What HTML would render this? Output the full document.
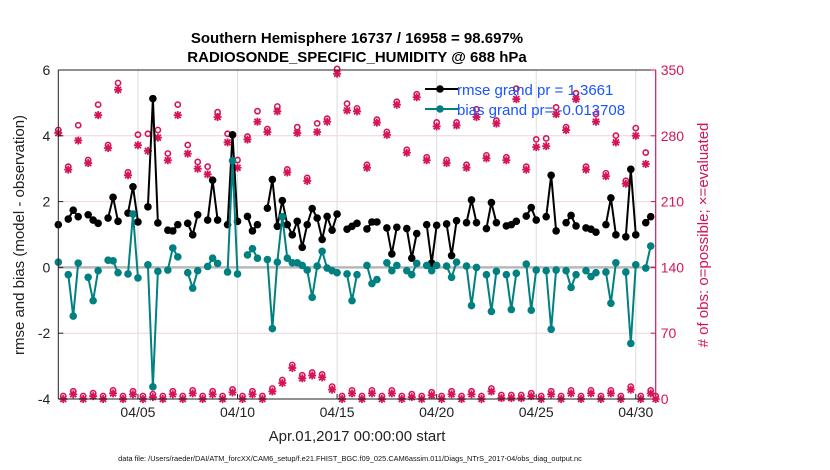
<!DOCTYPE html>
<html><head><meta charset="utf-8"><style>
body{margin:0;background:#fff;}
svg{display:block;font-family:"Liberation Sans",Arial,sans-serif;}
</style></head><body>
<svg id="chart" width="830" height="470" viewBox="0 0 830 470" xmlns="http://www.w3.org/2000/svg">
<rect x="0" y="0" width="830" height="470" fill="#fff"/>
<g id="grid"></g>
<g id="marks"></g>
<g id="axes"></g>
<text x="357" y="43" text-anchor="middle" font-size="15" font-weight="bold">Southern Hemisphere 16737 / 16958 = 98.697%</text>
<text x="357" y="62" text-anchor="middle" font-size="15" font-weight="bold">RADIOSONDE_SPECIFIC_HUMIDITY @ 688 hPa</text>
<text transform="translate(24,235) rotate(-90)" text-anchor="middle" font-size="15" fill="#222">rmse and bias (model - observation)</text>
<text transform="translate(708,235) rotate(-90)" text-anchor="middle" font-size="15" fill="#d6145a"># of obs: o=possible; ×=evaluated</text>
<text x="357" y="441" text-anchor="middle" font-size="15" fill="#222">Apr.01,2017 00:00:00 start</text>
<text x="350" y="461" text-anchor="middle" font-size="7.4" fill="#111">data file: /Users/raeder/DAI/ATM_forcXX/CAM6_setup/f.e21.FHIST_BGC.f09_025.CAM6assim.011/Diags_NTrS_2017-04/obs_diag_output.nc</text>
<g>
<line x1="425" y1="89" x2="458" y2="89" stroke="#000" stroke-width="2"/>
<circle cx="440" cy="89" r="3.8" fill="#000"/>
<line x1="425" y1="109" x2="458" y2="109" stroke="#008080" stroke-width="2"/>
<circle cx="440" cy="109" r="3.8" fill="#008080"/>
<text x="457" y="95" font-size="15" fill="#1a53ff">rmse grand pr = 1.3661</text>
<text x="457" y="115" font-size="15" fill="#1a53ff">bias grand pr= -0.013708</text>
</g>
</svg>
<script>
// time index k: 6-hourly slots from Apr 01 00Z
const rmse = [1.30,null,1.47,1.74,1.54,null,1.60,1.44,1.34,null,1.50,2.13,1.40,null,1.65,2.45,1.38,null,1.84,5.13,1.35,null,1.13,1.11,1.30,null,1.34,0.99,1.60,null,1.44,2.65,1.44,null,1.30,4.03,1.40,null,1.55,1.11,1.30,null,1.80,2.67,1.25,2.03,1.30,0.99,1.40,0.61,1.30,1.79,1.50,0.85,1.55,1.13,1.62,null,1.16,1.25,1.34,null,1.17,1.38,1.38,null,1.20,0.41,1.22,null,1.18,0.28,1.03,null,1.30,0.13,1.28,null,1.32,0.36,1.42,null,1.36,2.05,1.36,null,1.18,1.97,1.36,null,1.26,1.30,1.40,null,1.56,1.82,1.44,null,1.54,2.80,1.11,null,1.36,1.58,1.26,null,1.20,1.16,1.07,null,1.30,2.11,0.99,null,0.93,2.98,0.99,null,1.36,1.54,null];
const bias = [0.16,null,-0.22,-1.48,0.13,null,-0.30,-1.01,-0.10,null,0.22,0.20,-0.16,null,-0.20,1.62,-0.32,null,0.08,-3.63,-0.12,null,-0.08,0.59,0.32,null,-0.16,-0.63,-0.10,null,0.03,0.28,0.12,null,-0.14,3.24,-0.20,null,0.38,0.57,0.28,null,0.24,-1.86,0.16,1.54,0.28,0.14,0.14,0.06,-0.08,-0.91,0.04,0.49,-0.02,-0.10,-0.16,null,-0.20,-1.01,-0.22,null,0.06,-0.49,-0.37,null,0.14,-0.10,0.06,null,-0.10,-0.22,0.12,null,0.06,-0.10,0.06,null,0.04,-0.30,0.16,null,0.04,-1.16,0.0,null,-0.22,-1.34,-0.12,null,-0.22,-1.28,-0.18,null,0.10,-1.30,-0.08,null,-0.10,-1.88,-0.08,null,-0.10,-0.61,-0.22,null,-0.10,-0.28,-0.16,null,-0.14,-1.09,0.14,null,-0.14,-2.31,0.08,null,-0.02,0.65,null];
const obsEvaluated = [283,0,244,5,275,0,251,3,302,0,267,6,329,0,238,5,270,0,264,2,278,0,254,5,302,0,261,6,245,0,239,5,300,0,273,7,246,0,276,5,295,0,284,8,306,17,241,33,283,22,232,25,284,23,295,10,346,0,307,6,306,0,246,6,294,0,281,6,313,0,262,2,321,0,254,4,290,0,251,5,291,0,246,5,300,0,256,8,293,1,254,1,319,1,244,3,268,0,269,5,303,0,286,6,319,0,244,6,295,0,237,6,273,0,229,10,280,0,250,6,0];
const obsPossible = [283,0,244,5,288,0,251,3,310,0,267,6,333,0,238,5,278,0,279,2,283,0,258,5,310,0,267,6,249,0,244,5,302,0,279,7,251,0,276,5,303,0,284,8,308,17,241,33,286,22,232,25,290,23,295,10,348,0,311,6,306,0,246,6,294,0,281,6,313,0,262,2,321,0,254,4,291,0,251,5,291,0,246,5,305,0,256,8,293,1,254,1,327,1,244,3,273,0,274,5,307,0,286,6,322,0,244,6,300,0,237,6,277,0,229,10,285,0,259,6,0];
const leftTicks = [6,4,2,0,-2,-4];
const rightTicks = [350,280,210,140,70,0];
const dayTicks = [5,10,15,20,25,30];
const dayLabels = ["04/05","04/10","04/15","04/20","04/25","04/30"];

const NS="http://www.w3.org/2000/svg";
const X0=58.3,X1=655.7,YT=70,YB=399;
function xDay(d){return X0+(d-1)*(X1-X0)/30;}
function xSlot(k){return xDay(1+k*0.25);}
function yL(v){return YB-(v+4)*(YB-YT)/10;}
function yR(c){return YB-c*(YB-YT)/350;}
function mk(tag,attrs,parent){const e=document.createElementNS(NS,tag);for(const a in attrs)e.setAttribute(a,attrs[a]);parent.appendChild(e);return e;}
const grid=document.getElementById('grid'),marks=document.getElementById('marks'),axes=document.getElementById('axes');

rightTicks.forEach(c=>{if(c>0&&c<350){const l=mk('line',{x1:X0,x2:X1,y1:yR(c),y2:yR(c),stroke:'#f0d4de','stroke-width':1},grid);

}});
dayTicks.forEach(d=>{const l=mk('line',{x1:xDay(d),x2:xDay(d),y1:YT,y2:YB,stroke:'#dcdcdc','stroke-width':1},grid);

});
const zl=mk('line',{x1:X0,x2:X1,y1:yL(0),y2:yL(0),stroke:'#b8b8b8','stroke-width':2.5},grid);



function series(arr,color,name){
  let d='',pen=false;
  arr.forEach((v,k)=>{if(v===null){pen=false;return;}d+=(pen?'L':'M')+xSlot(k).toFixed(1)+' '+yL(v).toFixed(1);pen=true;});
  const p=mk('path',{d:d,fill:'none',stroke:color,'stroke-width':2,'stroke-linejoin':'round'},marks);
  
  
  arr.forEach((v,k)=>{if(v===null)return;const c=mk('circle',{cx:xSlot(k),cy:yL(v),r:3.8,fill:color},marks);
    
    });
}
const pink='#d6145a';
obsPossible.forEach((c,k)=>{const o=mk('circle',{cx:xSlot(k),cy:yR(c)-3,r:2.6,fill:'none',stroke:pink,'stroke-width':1.6},marks);
  
  });
obsEvaluated.forEach((c,k)=>{const x=xSlot(k),y=yR(c);
  const g=mk('g',{stroke:pink,'stroke-width':1.8},marks);
  
  
  mk('line',{x1:x-4,x2:x+4,y1:y,y2:y},g);mk('line',{x1:x,x2:x,y1:y-4,y2:y+4},g);
  mk('line',{x1:x-3,x2:x+3,y1:y-3,y2:y+3},g);mk('line',{x1:x-3,x2:x+3,y1:y+3,y2:y-3},g);
  mk('circle',{cx:x,cy:y,r:2.2,fill:pink,stroke:'none'},g);});
series(rmse,'#000','rmse');
series(bias,'#008080','bias');

const frame=[['M',X0,YT,'L',X1,YT],['M',X0,YT,'L',X0,YB],['M',X0,YB,'L',X1,YB]];
frame.forEach(f=>{const l=mk('path',{d:f.join(' '),stroke:'#222','stroke-width':1,fill:'none'},axes);

});
const ra=mk('line',{x1:X1,x2:X1,y1:YT,y2:YB,stroke:pink,'stroke-width':1.2},axes);


leftTicks.forEach(v=>{const y=yL(v);mk('line',{x1:X0,x2:X0+5,y1:y,y2:y,stroke:'#222'},axes);
  const t=mk('text',{x:X0-8,y:y+5,'text-anchor':'end','font-size':14,fill:'#222'},axes);t.textContent=v;
  
  });
rightTicks.forEach(c=>{const y=yR(c);mk('line',{x1:X1-5,x2:X1,y1:y,y2:y,stroke:pink},axes);
  const t=mk('text',{x:X1+5,y:y+5,'font-size':14,fill:pink},axes);t.textContent=c;
  
  });
dayTicks.forEach((d,i)=>{const x=xDay(d);mk('line',{x1:x,x2:x,y1:YB-5,y2:YB,stroke:'#222'},axes);
  const t=mk('text',{x:x,y:YB+18,'text-anchor':'middle','font-size':14,fill:'#222'},axes);t.textContent=dayLabels[i];
  
  });
</script>
</body></html>
